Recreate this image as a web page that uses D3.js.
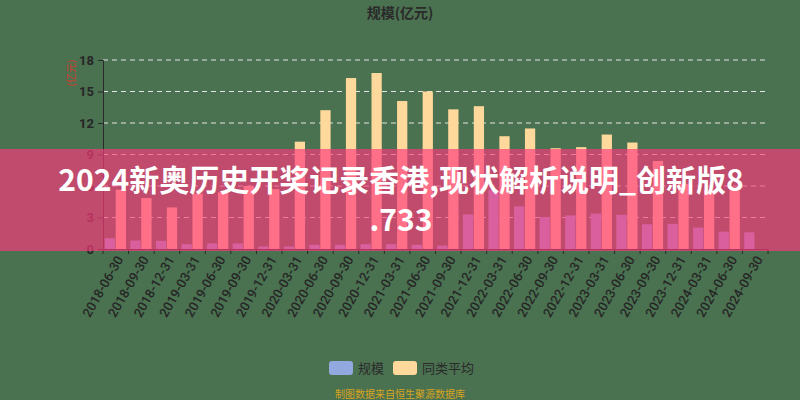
<!DOCTYPE html>
<html>
<head>
<meta charset="utf-8">
<script src="https://cdn.jsdelivr.net/npm/d3@7/dist/d3.min.js"></script>
<style>
  html, body { margin: 0; padding: 0; background: #4a7150; }
  svg { display: block; font-family: "Noto Sans CJK SC", "Noto Sans", sans-serif; }
</style>
</head>
<body>
<svg id="chart" width="800" height="400"></svg>
<script>
const dates = ["2018-06-30","2018-09-30","2018-12-31","2019-03-31","2019-06-30","2019-09-30","2019-12-31",
  "2020-03-31","2020-06-30","2020-09-30","2020-12-31","2021-03-31","2021-06-30","2021-09-30","2021-12-31",
  "2022-03-31","2022-06-30","2022-09-30","2022-12-31","2023-03-31","2023-06-30","2023-09-30","2023-12-31",
  "2024-03-31","2024-06-30","2024-09-30"];
const scaleValues = [1.03,0.81,0.78,0.46,0.53,0.53,0.24,0.24,0.40,0.40,0.46,0.46,0.40,0.33,3.30,
  5.59,4.06,3.04,3.20,3.37,3.26,2.36,2.40,2.04,1.65,1.59];
const avgValues = [5.65,4.86,3.96,5.28,5.40,6.00,5.70,10.22,13.22,16.28,16.76,14.09,15.00,13.30,13.60,
  10.74,11.48,9.60,9.70,10.90,10.14,8.38,6.20,5.60,5.60,null];
const seriesNames = ["规模","同类平均"];
const yTicks = [0,3,6,9,12,15,18];
const chartTitle = "规模(亿元)";
const yAxisName = "(亿元)";
const overlayLines = ["2024新奥历史开奖记录香港,现状解析说明_创新版8", ".733"];
const footnote = "制图数据来自恒生聚源数据库";

const colors = { "规模": "#91a9de", "同类平均": "#ffd99b" };

const svg = d3.select("#chart");
const W = 800, H = 400;
const m = { left: 103, right: 32, top: 60, bottom: 151 };
const innerW = W - m.left - m.right, innerH = H - m.top - m.bottom;

svg.append("rect").attr("width", W).attr("height", H).attr("fill", "#4a7150");

const g = svg.append("g").attr("transform", `translate(${m.left},${m.top})`);

const x0 = d3.scaleBand().domain(dates).range([0, innerW]).padding(0);
const x1 = d3.scaleBand().domain(seriesNames).range([1.8, x0.bandwidth() - 2.6]).paddingInner(0.06);
const y = d3.scaleLinear().domain([0, 18]).range([innerH, 0]);

// grid lines
g.append("g").selectAll("line").data(yTicks.filter(t => t > 0)).join("line")
  .attr("x1", 0).attr("x2", innerW)
  .attr("y1", d => y(d)).attr("y2", d => y(d))
  .attr("stroke", "#e6e6e6").attr("stroke-width", 1).attr("stroke-dasharray", "5,4");

// bars
const rows = dates.map((d, i) => ({ date: d, vals: [
  { key: "规模", v: scaleValues[i] }, { key: "同类平均", v: avgValues[i] }] }));
const grp = g.append("g").selectAll("g").data(rows).join("g")
  .attr("transform", d => `translate(${x0(d.date)},0)`);
grp.selectAll("rect").data(d => d.vals.filter(v => v.v != null)).join("rect")
  .attr("x", d => x1(d.key)).attr("width", x1.bandwidth())
  .attr("y", d => y(d.v)).attr("height", d => innerH - y(d.v))
  .attr("fill", d => colors[d.key]);

// y axis
const yAxis = g.append("g").call(d3.axisLeft(y).tickValues(yTicks).tickSize(5).tickPadding(4));
yAxis.select(".domain").attr("stroke", "#2a2a2a");
yAxis.selectAll(".tick line").attr("stroke", "#2a2a2a");
yAxis.selectAll(".tick text").attr("fill", "#262626").attr("font-size", 13)
  .attr("font-family", "Roboto, 'Noto Sans', sans-serif").attr("font-weight", "bold");

// x axis
const xAxis = g.append("g").attr("transform", `translate(0,${innerH})`)
  .call(d3.axisBottom(x0).tickSize(0).tickPadding(0));
xAxis.select(".domain").attr("stroke", "#2a2a2a");
xAxis.selectAll(".tick text")
  .attr("fill", "#262626").attr("font-size", 13)
  .attr("font-family", "Roboto, 'Noto Sans', sans-serif").attr("font-weight", 500)
  .attr("text-anchor", "end")
  .attr("transform", "translate(4,8) rotate(-60)")
  .attr("dy", "0.35em").attr("y", 0).attr("x", 0);
// boundary ticks
g.append("g").selectAll("line").data(d3.range(dates.length + 1)).join("line")
  .attr("x1", i => i * x0.step()).attr("x2", i => i * x0.step())
  .attr("y1", innerH).attr("y2", innerH + 5)
  .attr("stroke", "#2a2a2a");

// titles
svg.append("text").attr("x", 400).attr("y", 18).attr("text-anchor", "middle")
  .attr("font-size", 14).attr("font-weight", "bold").attr("fill", "#2a2a2a").text(chartTitle);
svg.append("text").attr("transform", "translate(75,73) rotate(-90)").attr("text-anchor", "middle")
  .attr("font-size", 10).attr("fill", "#d83a2e").text(yAxisName);

// legend
const legend = svg.append("g");
const lx = [329, 393];
seriesNames.forEach((s, i) => {
  legend.append("rect").attr("x", lx[i]).attr("y", 361).attr("width", 24).attr("height", 14)
    .attr("rx", 3).attr("fill", colors[s]);
  legend.append("text").attr("x", lx[i] + 29).attr("y", 372.5).attr("font-size", 13)
    .attr("fill", "#2a2a2a").text(s);
});
svg.append("text").attr("x", 400).attr("y", 398).attr("text-anchor", "middle")
  .attr("font-size", 10).attr("fill", "#d9a520").text(footnote);

// overlay band
svg.append("rect").attr("x", 0).attr("y", 149).attr("width", W).attr("height", 102)
  .attr("fill", "rgb(255,56,125)").attr("fill-opacity", 0.66);
overlayLines.forEach((t, i) => {
  svg.append("text").attr("x", 401).attr("y", 191 + i * 40).attr("text-anchor", "middle")
    .attr("font-size", 30).attr("font-weight", "bold").attr("fill", "#ffffff").text(t);
});
</script>
</body>
</html>
